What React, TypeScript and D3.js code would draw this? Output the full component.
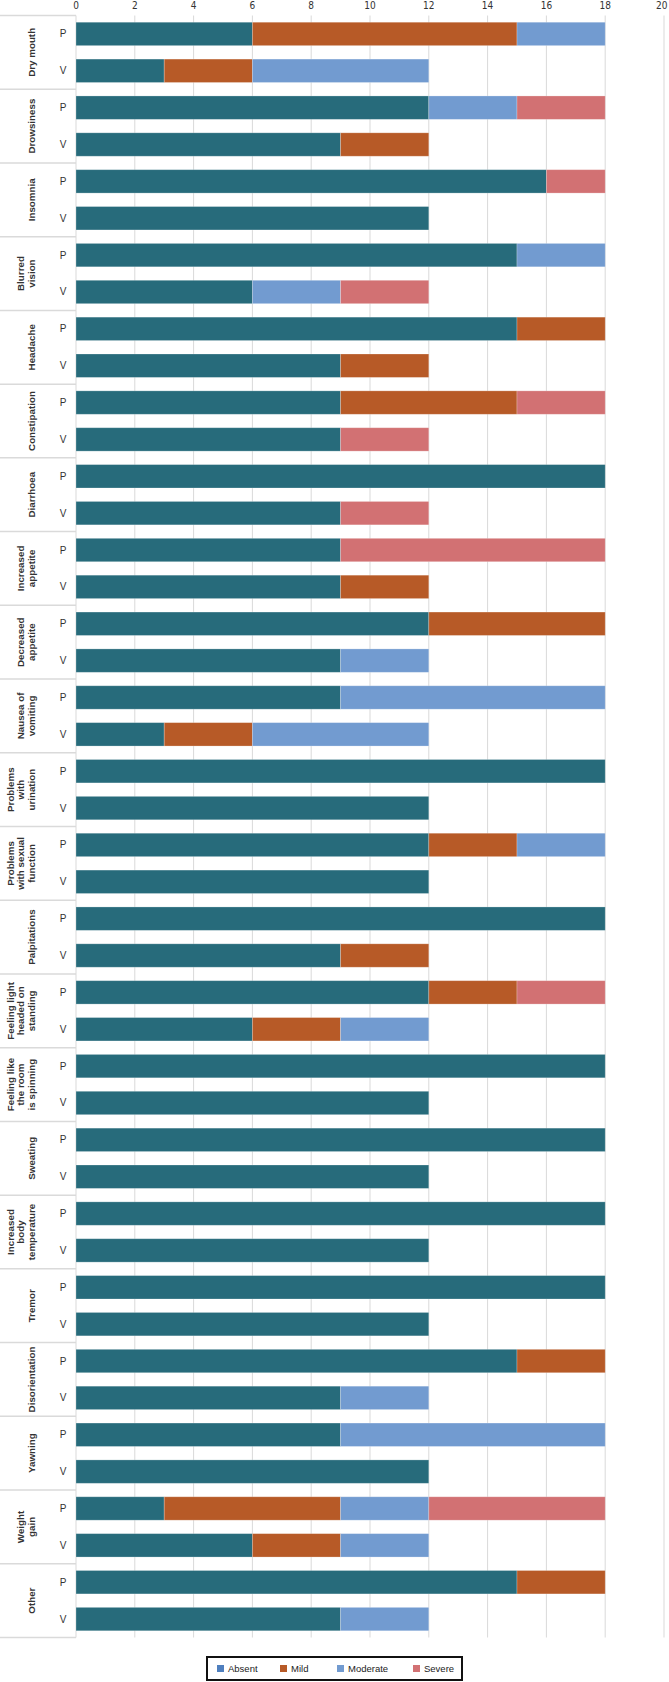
import React from "react";
import * as d3 from "d3";

const categories = [
  "Dry mouth", "Drowsiness", "Insomnia", "Blurred vision", "Headache", "Constipation",
  "Diarrhoea", "Increased appetite", "Decreased appetite", "Nausea of vomiting",
  "Problems with urination", "Problems with sexual function", "Palpitations",
  "Feeling light headed on standing", "Feeling like the room is spinning", "Sweating",
  "Increased body temperature", "Tremor", "Disorientation", "Yawning", "Weight gain", "Other",
];
// label lines as wrapped in the original
const labelLines = [
  ["Dry mouth"], ["Drowsiness"], ["Insomnia"], ["Blurred", "vision"], ["Headache"],
  ["Constipation"], ["Diarrhoea"], ["Increased", "appetite"], ["Decreased", "appetite"],
  ["Nausea of", "vomiting"], ["Problems", "with", "urination"], ["Problems", "with sexual", "function"],
  ["Palpitations"], ["Feeling light", "headed on", "standing"], ["Feeling like", "the room", "is spinning"],
  ["Sweating"], ["Increased", "body", "temperature"], ["Tremor"], ["Disorientation"],
  ["Yawning"], ["Weight", "gain"], ["Other"],
];
const groups = ["P", "V"];
const severities = ["Absent", "Mild", "Moderate", "Severe"];

const absentP = [6, 12, 16, 15, 15, 9, 18, 9, 12, 9, 18, 12, 18, 12, 18, 18, 18, 18, 15, 9, 3, 15];
const mildP = [9, 0, 0, 0, 3, 6, 0, 0, 6, 0, 0, 3, 0, 3, 0, 0, 0, 0, 3, 0, 6, 3];
const moderateP = [3, 3, 0, 3, 0, 0, 0, 0, 0, 9, 0, 3, 0, 0, 0, 0, 0, 0, 0, 9, 3, 0];
const severeP = [0, 3, 2, 0, 0, 3, 0, 9, 0, 0, 0, 0, 0, 3, 0, 0, 0, 0, 0, 0, 6, 0];

const absentV = [3, 9, 12, 6, 9, 9, 9, 9, 9, 3, 12, 12, 9, 6, 12, 12, 12, 12, 9, 12, 6, 9];
const mildV = [3, 3, 0, 0, 3, 0, 0, 3, 0, 3, 0, 0, 3, 3, 0, 0, 0, 0, 0, 0, 3, 0];
const moderateV = [6, 0, 0, 3, 0, 0, 0, 0, 3, 6, 0, 0, 0, 3, 0, 0, 0, 0, 3, 0, 3, 3];
const severeV = [0, 0, 0, 3, 0, 3, 3, 0, 0, 0, 0, 0, 0, 0, 0, 0, 0, 0, 0, 0, 0, 0];

const xTicks = [0, 2, 4, 6, 8, 10, 12, 14, 16, 18, 20];

const barColors = ["#276b7b", "#b75a27", "#729bd0", "#d27173"];
const legendColors = ["#4f7fbe", "#b75a27", "#729bd0", "#d27173"];

const W = 669;
const H = 1682;
const left = 76;
const right = 664;
const top = 15.5;
const bottom = 1637.5;

export default function App() {
  const x = d3.scaleLinear().domain([0, 20]).range([left, right]);
  const y = d3.scaleBand().domain(categories).range([top, bottom]).padding(0);
  const yInner = d3.scaleBand().domain(groups).range([0, y.bandwidth()])
    .paddingInner(0.365).paddingOuter(0.1825);

  const rows = categories.flatMap((c, i) => [
    { cat: c, grp: "P", Absent: absentP[i], Mild: mildP[i], Moderate: moderateP[i], Severe: severeP[i] },
    { cat: c, grp: "V", Absent: absentV[i], Mild: mildV[i], Moderate: moderateV[i], Severe: severeV[i] },
  ]);
  const stacked = d3.stack<any>().keys(severities)(rows);

  const separators = [...categories.map((c) => y(c) as number), bottom];

  const legendX = 207;
  const legendY = 1657;
  const legendItemX = [217, 280, 337, 413];

  return (
    <svg width={W} height={H} style={{ position: "absolute", left: 0, top: 0, background: "#fff" }}>
      {/* vertical grid */}
      <g>
        {xTicks.map((t) => (
          <line key={t} x1={x(t)} x2={x(t)} y1={top} y2={bottom} stroke="#d9d9d9" strokeWidth={1} />
        ))}
      </g>
      {/* tick labels */}
      <g fontFamily="'Liberation Sans Narrow', 'Arial Narrow', 'DejaVu Sans Condensed', sans-serif" fontSize={10} fill="#333">
        {xTicks.map((t, i) => {
          const last = i === xTicks.length - 1;
          return (
            <text key={t} x={last ? W - 1.5 : x(t)} y={9} textAnchor={last ? "end" : "middle"}>{t}</text>
          );
        })}
      </g>
      {/* category separators */}
      <g>
        {separators.map((s, i) => (
          <line key={i} x1={0} x2={left} y1={s} y2={s} stroke="#dadada" strokeWidth={1.5} />
        ))}
      </g>
      {/* bars */}
      <g>
        {stacked.map((layer, k) => (
          <g key={layer.key} fill={barColors[k]}>
            {layer.map((d: any, j: number) => {
              const w = x(d[1]) - x(d[0]);
              if (w <= 0) return null;
              return (
                <rect
                  key={j}
                  x={x(d[0])}
                  y={(y(d.data.cat) as number) + (yInner(d.data.grp) as number)}
                  width={w}
                  height={yInner.bandwidth()}
                  stroke="rgba(255,255,255,0.3)"
                  strokeWidth={0.8}
                />
              );
            })}
          </g>
        ))}
      </g>
      {/* P / V labels */}
      <g fontFamily="'Liberation Sans', Arial, sans-serif" fontSize={10} fill="#333" textAnchor="middle">
        {rows.map((r, i) => (
          <text key={i} x={63} y={(y(r.cat) as number) + (yInner(r.grp) as number) + yInner.bandwidth() / 2} dy="0.35em">
            {r.grp}
          </text>
        ))}
      </g>
      {/* category labels */}
      <g fontFamily="'Liberation Sans', Arial, sans-serif" fontSize={9.8} fontWeight="bold" fill="#333" textAnchor="middle">
        {categories.map((c, i) => {
          const cy = (y(c) as number) + y.bandwidth() / 2;
          const lines = labelLines[i];
          return (
            <g key={c} transform={`translate(31.5,${cy}) rotate(-90)`}>
              {lines.map((ln, li) => (
                <text key={li} x={0} y={(li - (lines.length - 1)) * 10.5} dy="0.35em">{ln}</text>
              ))}
            </g>
          );
        })}
      </g>
      {/* legend */}
      <g>
        <rect x={legendX} y={legendY} width={255} height={23} fill="#fff" stroke="#111" strokeWidth={2} />
        {severities.map((s, i) => (
          <g key={s}>
            <rect x={legendItemX[i]} y={legendY + 8} width={7} height={7} fill={legendColors[i]} />
            <text x={legendItemX[i] + 11} y={legendY + 11.5} dy="0.35em" fontFamily="'Liberation Sans', Arial, sans-serif" fontSize={9.5} fill="#222">
              {s}
            </text>
          </g>
        ))}
      </g>
    </svg>
  );
}
